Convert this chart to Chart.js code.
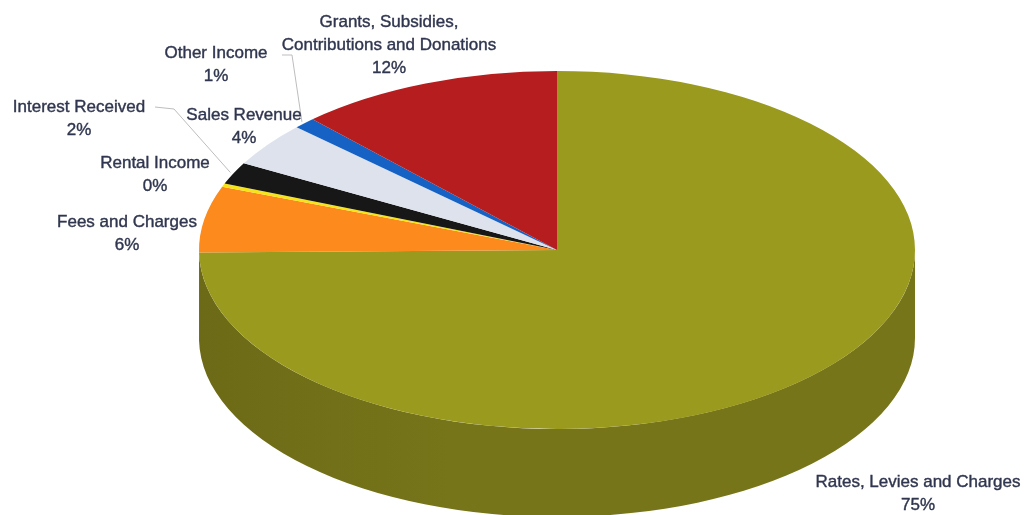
<!DOCTYPE html>
<html>
<head>
<meta charset="utf-8">
<title>Revenue by source</title>
<script src="https://cdn.jsdelivr.net/npm/chart.js@4.4.1/dist/chart.umd.min.js"></script>
<style>
  html, body { margin: 0; padding: 0; background: #fff; }
  #pie { display: block; }
</style>
</head>
<body>
<canvas id="pie" width="1024" height="515"></canvas>
<script>
// revenue sources, clockwise from 12 o'clock
const categories = [
  ["Rates, Levies and Charges"],
  ["Fees and Charges"],
  ["Rental Income"],
  ["Interest Received"],
  ["Sales Revenue"],
  ["Other Income"],
  ["Grants, Subsidies,", "Contributions and Donations"]
];
const shares = [75, 6, 0.3, 2, 4, 1, 12];

const topColours = ["#9a9a1e", "#fd8a1c", "#f6e41a", "#171717", "#dde2ec", "#1662c4", "#b61d1e"];
const sideColours = ["#77751a", "#b8620f", "#b0a410", "#0c0c0c", "#9ea3ad", "#0e4590", "#821314"];

// where each label sits (centre of first line) and optional leader bend
const labelAt = [[918, 482], [127, 222], [155, 163], [79, 107], [244, 115], [216, 53], [389, 22]];
const leaders = { 3: [[155, 107], [174, 109]], 5: [[282, 55], [292, 55]] };

// squashed ellipse for the 3d look
const view = { cx: 557, cy: 250, rx: 358, ry: 179, depth: 88 };

function frontPart(s, e) {
  // visible side wall: the part of [s,e] that lies between 0 and PI (mod 2PI)
  const out = [];
  for (let k = -1; k <= 1; k++) {
    const lo = Math.max(s, k * 2 * Math.PI), hi = Math.min(e, k * 2 * Math.PI + Math.PI);
    if (hi > lo) out.push([lo, hi]);
  }
  return out;
}

const pie3d = {
  id: "pie3d",
  beforeDatasetsDraw(chart) {
    const ctx = chart.ctx;
    const arcs = chart.getDatasetMeta(0).data;
    const { cx, cy, rx, ry, depth } = view;

    // side walls first, a touch darker towards the left
    arcs.forEach((arc, i) => {
      frontPart(arc.startAngle, arc.endAngle).forEach(([a0, a1]) => {
        const g = ctx.createLinearGradient(cx - rx, 0, cx + rx, 0);
        g.addColorStop(0, "#6c6a16");
        g.addColorStop(0.35, sideColours[i]);
        g.addColorStop(1, sideColours[i]);
        ctx.beginPath();
        ctx.ellipse(cx, cy, rx, ry, 0, a0, a1, false);
        ctx.ellipse(cx, cy + depth, rx, ry, 0, a1, a0, true);
        ctx.closePath();
        ctx.fillStyle = i === 0 ? g : sideColours[i];
        ctx.fill();
      });
    });

    // top face: chart.js arcs squeezed into the ellipse
    const a = arcs[0];
    ctx.save();
    ctx.translate(cx, cy);
    ctx.scale(rx / a.outerRadius, ry / a.outerRadius);
    ctx.translate(-a.x, -a.y);
  },
  afterDatasetsDraw(chart) {
    chart.ctx.restore();
  },
  afterDraw(chart) {
    const ctx = chart.ctx;
    const arcs = chart.getDatasetMeta(0).data;
    const total = shares.reduce((s, v) => s + v, 0);
    const { cx, cy, rx, ry } = view;

    // leader lines
    ctx.save();
    ctx.strokeStyle = "#bdbdbd";
    ctx.lineWidth = 1;
    Object.keys(leaders).forEach(k => {
      const arc = arcs[k];
      const mid = (arc.startAngle + arc.endAngle) / 2;
      const pts = leaders[k];
      ctx.beginPath();
      ctx.moveTo(pts[0][0], pts[0][1]);
      for (let j = 1; j < pts.length; j++) ctx.lineTo(pts[j][0], pts[j][1]);
      ctx.lineTo(cx + rx * 1.01 * Math.cos(mid), cy + ry * 1.01 * Math.sin(mid));
      ctx.stroke();
    });
    ctx.restore();

    // labels
    ctx.save();
    ctx.font = "17px 'Liberation Sans', Arial, sans-serif";
    ctx.fillStyle = "#30364f";
    ctx.strokeStyle = "#30364f";
    ctx.lineWidth = 0.4;
    ctx.textAlign = "center";
    ctx.textBaseline = "middle";
    const put = (t, x, y) => { ctx.fillText(t, x, y); ctx.strokeText(t, x, y); };
    categories.forEach((lines, i) => {
      const [x, y] = labelAt[i];
      lines.forEach((t, j) => put(t, x, y + j * 23));
      put(Math.round(shares[i] / total * 100) + "%", x, y + lines.length * 23);
    });
    ctx.restore();
  }
};

new Chart(document.getElementById("pie"), {
  type: "pie",
  data: {
    labels: categories,
    datasets: [{
      data: shares,
      backgroundColor: topColours,
      borderWidth: 0,
      hoverOffset: 0,
      clip: false
    }]
  },
  options: {
    responsive: false,
    animation: false,
    events: [],
    rotation: 0,
    layout: { padding: 20 },
    plugins: {
      legend: { display: false },
      tooltip: { enabled: false }
    }
  },
  plugins: [pie3d]
});
</script>
</body>
</html>
